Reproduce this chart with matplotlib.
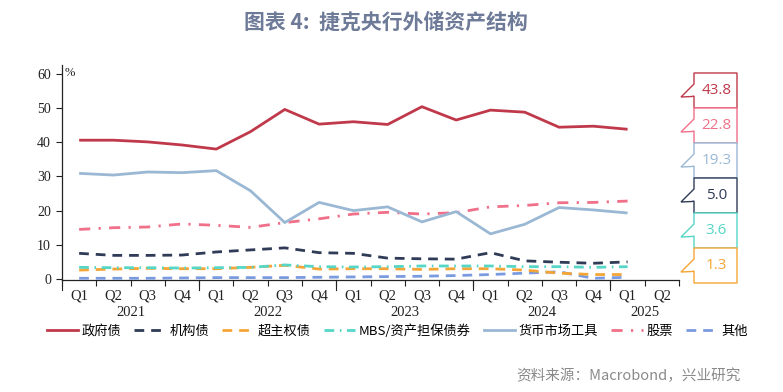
import matplotlib
matplotlib.use("Agg")
import matplotlib.pyplot as plt
from matplotlib.patches import Polygon
from matplotlib.lines import Line2D

plt.rcParams['font.family'] = ['Noto Sans CJK SC', 'DejaVu Sans']

quarters = ["Q1", "Q2", "Q3", "Q4"] * 4 + ["Q1", "Q2"]
years = ["2021", "2022", "2023", "2024", "2025"]

gov = [40.6, 40.6, 40.1, 39.2, 38.0, 43.1, 49.6, 45.3, 46.0, 45.2, 50.4, 46.5, 49.4, 48.8, 44.4, 44.7, 43.8]
agency = [7.5, 6.9, 6.9, 7.0, 7.9, 8.5, 9.1, 7.7, 7.5, 6.1, 5.9, 5.8, 7.7, 5.3, 4.9, 4.6, 5.0]
supra = [2.6, 2.9, 3.1, 3.0, 3.0, 3.4, 4.0, 2.9, 3.0, 3.0, 2.8, 3.0, 3.0, 2.6, 1.7, 1.3, 1.3]
mbs = [3.4, 3.3, 3.3, 3.2, 3.3, 3.4, 4.1, 3.6, 3.5, 3.6, 3.8, 3.8, 3.8, 3.6, 3.6, 3.4, 3.6]
mmi = [30.9, 30.4, 31.3, 31.1, 31.7, 25.8, 16.5, 22.4, 20.0, 21.1, 16.7, 19.7, 13.2, 16.0, 20.9, 20.2, 19.3]
equity = [14.5, 15.0, 15.2, 16.1, 15.7, 15.1, 16.5, 17.6, 19.0, 19.5, 19.0, 19.4, 21.1, 21.5, 22.3, 22.4, 22.8]
other = [0.2, 0.2, 0.2, 0.3, 0.4, 0.4, 0.4, 0.5, 0.6, 0.7, 0.8, 1.0, 1.3, 1.7, 2.1, 0.2, 0.5]

names = ["政府债", "机构债", "超主权债", "MBS/资产担保债券", "货币市场工具", "股票", "其他"]
colors = ["#c0394b", "#2f3b57", "#f4a535", "#56d6c6", "#9ab8d4", "#ef7088", "#7b9be0"]
styles = ["-", (0, (3.5, 2.5)), (0, (3.5, 2.5)), (0, (3.5, 2.0, 0.6, 2.0)), "-", (0, (4, 3, 0.8, 3)), (0, (3.5, 2.5))]
series = [gov, agency, supra, mbs, mmi, equity, other]

W, H = 783, 392
fig = plt.figure(figsize=(W / 100, H / 100), dpi=100)

def fx(px):
    return px / W

def fy(py):
    return 1 - py / H

ax = fig.add_axes([fx(62), fy(280), fx(679) - fx(62), fy(65) - fy(280)])
xs = list(range(len(gov)))
order = [6, 1, 2, 3, 5, 4, 0]
for i in order:
    ax.plot(xs, series[i], color=colors[i], linestyle=styles[i], lw=2.0,
            solid_capstyle='butt', dash_capstyle='butt', zorder=3 + (i == 0))

ax.set_xlim(-0.5, 17.5)
ax.set_ylim(-0.3, 62.6)
for s in ["top", "right"]:
    ax.spines[s].set_visible(False)
ax.spines["left"].set_color("#222222")
ax.spines["bottom"].set_color("#222222")
ax.spines["left"].set_linewidth(0.9)
ax.spines["bottom"].set_linewidth(0.9)

ax.set_yticks([0, 10, 20, 30, 40, 50, 60])
ax.set_yticklabels(["0", "10", "20", "30", "40", "50", "60"], family="Liberation Serif", fontsize=10)
ax.tick_params(axis="y", length=4, width=0.8, color="#222222", pad=4, labelcolor="#222222")

# quarter boundary ticks
ax.set_xticks([i - 0.5 for i in range(19)])
ax.set_xticklabels([])
ax.tick_params(axis="x", which="major", length=4, width=0.8, color="#222222")
# year boundary longer ticks
for b in [-0.5, 3.5, 7.5, 11.5, 15.5]:
    ax.plot([b, b], [0, -0.045], transform=ax.get_xaxis_transform(), color="#222222", lw=0.8, clip_on=False)

trans = ax.get_xaxis_transform()
for i, q in enumerate(quarters):
    ax.text(i, (fy(296) - fy(280)) / (fy(65) - fy(280)), q, transform=trans,
            ha="center", va="center", family="Liberation Serif", fontsize=10.5, color="#222222")
year_centers = [1.5, 5.5, 9.5, 13.5, 16.5]
for c, yl in zip(year_centers, years):
    ax.text(c, (fy(313) - fy(280)) / (fy(65) - fy(280)), yl, transform=trans,
            ha="center", va="center", family="Liberation Serif", fontsize=10.5, color="#222222")

ax.text(fx(70), fy(73), "%", transform=fig.transFigure, ha="center", va="center",
        family="Liberation Serif", fontsize=9, color="#222222")

# legend
handles = [Line2D([0], [0], color=colors[i], linestyle=styles[i], lw=2.0) for i in range(7)]
fig.legend(handles, names, loc="center", bbox_to_anchor=(fx(397), fy(331)), ncol=7, frameon=False,
           handlelength=2.4, handletextpad=0.25, columnspacing=1.0,
           prop={"family": ["Noto Sans CJK SC", "DejaVu Sans"], "size": 9.5})

# right-side callouts
labels_vals = [gov[-1], equity[-1], mmi[-1], agency[-1], mbs[-1], supra[-1]]
label_cols = [colors[0], colors[5], colors[4], colors[1], colors[3], colors[2]]
x0, x1 = 694, 737
top0, bh = 73, 35
for k, (v, c) in enumerate(zip(labels_vals, label_cols)):
    t = top0 + k * bh
    pts = [(x0, t), (x1, t), (x1, t + bh), (x0, t + bh), (x0, t + 23), (x0 - 2, t + 23.5),
           (x0 - 13, t + 24), (x0, t + 11)]
    poly = Polygon([(fx(a), fy(b)) for a, b in pts], closed=True, transform=fig.transFigure,
                   facecolor="white", edgecolor=c, lw=1.0, zorder=5 + k)
    fig.patches.append(poly)
    fig.text(fx((x0 + x1) / 2 + 1), fy(t + bh / 2), f"{v:.1f}", ha="center", va="center",
             fontsize=11, color=c, family=["Open Sans", "DejaVu Sans"], zorder=20)

# title
fig.text(fx(386), fy(22), "图表 4:  捷克央行外储资产结构", ha="center", va="center",
         fontsize=15, fontweight="bold", color="#6e7b98")

# source
fig.text(fx(516), fy(376), "资料来源：Macrobond，兴业研究", ha="left", va="center",
         fontsize=10.5, color="#8a8a8a")

fig.savefig("out.png", dpi=100, facecolor="white")
